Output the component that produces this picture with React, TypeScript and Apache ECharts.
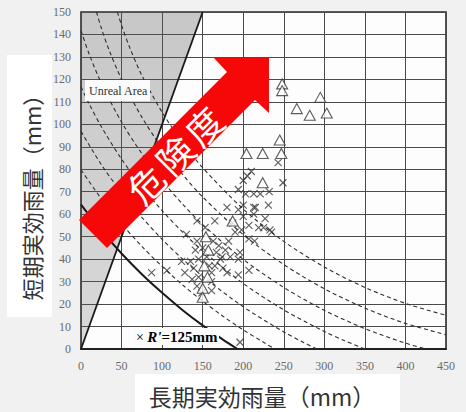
import React, { useEffect, useRef } from 'react';
import * as echarts from 'echarts';

// × cases (long-term, short-term effective rainfall, mm)
const crossPoints: number[][] = [
  [87, 34], [106, 35], [124, 39], [128, 34], [130, 51], [135, 39], [137, 31], [139, 36],
  [141, 44], [143, 57], [143, 48], [143, 28], [145, 40], [145, 32], [149, 25], [153, 54],
  [150, 45], [155, 41], [158, 37], [161, 34], [161, 30], [161, 26], [163, 48], [165, 57],
  [165, 37], [167, 43], [170, 46], [172, 40], [174, 41], [175, 36], [178, 44], [180, 63],
  [180, 34], [182, 48], [184, 41], [187, 56], [190, 52], [194, 71], [194, 62], [194, 40],
  [194, 33], [196, 43], [198, 53], [200, 75], [200, 64], [200, 59], [203, 69], [205, 77],
  [207, 55], [207, 49], [207, 35], [210, 79], [213, 69], [213, 63], [213, 60], [214, 48],
  [215, 63], [219, 54], [221, 69], [225, 54], [227, 58], [231, 64], [232, 70], [233, 53],
  [235, 52], [243, 83], [249, 74], [196, 3]
];

// △ cases
const trianglePoints: number[][] = [
  [248, 118], [248, 115], [295, 112], [266, 107], [282, 104], [303, 105], [245, 93],
  [204, 87], [224, 87], [247, 87], [224, 74], [187, 57], [154, 50], [157, 44],
  [152, 37], [156, 32], [150, 27], [150, 23]
];

// Unreal area (short-term > long-term)
const unrealArea: number[][] = [[0, 0], [150, 150], [0, 150]];
const unrealBoundary: number[][] = [[0, 0], [150, 150]];

// iso-lines
const dashedA: number[][] = [[44.9, 150], [50, 144.1], [60, 134.2], [75, 121.8], [100, 105.4], [125, 92.0], [150, 80.7], [200, 62.3], [250, 47.9], [300, 36.5], [350, 27.4], [400, 20.3], [450, 15.0]];
const dashedB: number[][] = [[19.1, 150], [25, 142.9], [35, 132.7], [50, 120.1], [75, 103.2], [100, 89.4], [125, 77.8], [150, 67.7], [200, 50.9], [250, 37.6], [300, 26.8], [350, 18.2], [400, 11.4], [450, 6.4]];
const dashedC: number[][] = [[0, 141.7], [10, 131.3], [25, 118.4], [50, 101.0], [75, 87.0], [100, 75.0], [125, 64.6], [150, 55.4], [200, 39.9], [250, 27.4], [300, 17.2], [350, 9.1], [400, 2.6], [425, 0]];
const dashedD: number[][] = [[0, 116.7], [10, 109.1], [25, 99.0], [50, 84.5], [75, 72.3], [100, 61.6], [125, 52.1], [150, 43.7], [200, 29.2], [250, 17.4], [300, 7.8], [325, 3.7], [350, 0]];
const dashedE: number[][] = [[0, 96.9], [25, 82.1], [50, 69.6], [75, 58.6], [100, 48.8], [125, 40.1], [150, 32.3], [200, 18.8], [250, 7.6], [275, 2.8], [291, 0]];
const dashedF: number[][] = [[0, 79.8], [25, 66.9], [50, 55.7], [75, 45.7], [100, 36.7], [125, 28.6], [150, 21.3], [175, 14.6], [200, 8.5], [225, 3.0], [239, 0]];
const curveR125: number[][] = [[0, 64.3], [25, 52.8], [50, 42.5], [75, 33.3], [100, 25.0], [125, 17.4], [150, 10.5], [175, 4.2], [193, 0]];

const dashedCurves = [dashedA, dashedB, dashedC, dashedD, dashedE, dashedF];

const xTitle = '長期実効雨量（mm）';
const yTitle = '短期実効雨量（mm）';
const arrowChars = ['危', '険', '度'];

const SERIF = "'Liberation Serif', 'DejaVu Serif', serif";
const CJK = "'Noto Sans CJK JP', 'Noto Sans', sans-serif";

export default function App() {
  const ref = useRef<HTMLDivElement>(null);
  useEffect(() => {
    if (!ref.current) return;
    const chart = echarts.init(ref.current, null, { renderer: 'svg' });

    const lineBase = {
      type: 'line',
      showSymbol: false,
      symbol: 'none',
      smooth: 0.3,
      silent: true,
      z: 3,
    };

    const series: any[] = [
      {
        type: 'custom',
        silent: true,
        z: 2,
        data: [[0, 0]],
        renderItem: (params: any, api: any) => ({
          type: 'polygon',
          shape: { points: unrealArea.map((p) => api.coord(p)) },
          style: {
            fill: new echarts.graphic.LinearGradient(0, 0, 0, 1, [
              { offset: 0, color: 'rgba(90,90,90,0.33)' },
              { offset: 1, color: 'rgba(90,90,90,0.22)' },
            ]),
          },
        }),
      },
      ...dashedCurves.map((d) => ({
        ...lineBase,
        data: d,
        lineStyle: { color: '#2e2e2e', width: 1.1, type: [4, 3] },
      })),
      {
        ...lineBase,
        data: curveR125,
        lineStyle: { color: '#1a1a1a', width: 2 },
      },
      {
        ...lineBase,
        smooth: false,
        data: unrealBoundary,
        lineStyle: { color: '#1a1a1a', width: 1.8 },
      },
      {
        type: 'scatter',
        data: crossPoints,
        symbol: 'path://M0 0L10 10M10 0L0 10',
        symbolSize: 7,
        itemStyle: { color: 'rgba(0,0,0,0)', borderColor: '#333', borderWidth: 1.1 },
        z: 5,
        silent: true,
      },
      {
        type: 'scatter',
        data: trianglePoints,
        symbol: 'triangle',
        symbolSize: [11, 10],
        itemStyle: { color: '#ffffff', borderColor: '#333', borderWidth: 1.1 },
        z: 6,
        silent: true,
      },
    ];

    const arrowPts = [
      [269, 58], [269, 113], [255, 100], [107, 248], [79, 220], [227, 72], [214, 58],
    ];
    const charPos = [[145, 183], [174, 154], [203, 125]];

    const graphic: any[] = [
      { type: 'rect', z: 0, silent: true, shape: { x: 7, y: 55, width: 45, height: 262 }, style: { fill: '#ffffff' } },
      { type: 'rect', z: 0, silent: true, shape: { x: 135, y: 374, width: 265, height: 38 }, style: { fill: '#ffffff' } },
      {
        type: 'text', z: 10, x: 31, y: 192, rotation: Math.PI / 2,
        style: { text: yTitle, font: `22px ${CJK}`, fill: '#333', textAlign: 'center', textVerticalAlign: 'middle' },
      },
      {
        type: 'text', z: 10, x: 262, y: 396,
        style: { text: xTitle, font: `23px ${CJK}`, fill: '#333', textAlign: 'center', textVerticalAlign: 'middle' },
      },
      { type: 'rect', z: 50, silent: true, shape: { x: 85, y: 80, width: 65, height: 21 }, style: { fill: '#fbfbfb' } },
      {
        type: 'text', z: 51, x: 89, y: 91,
        style: { text: 'Unreal Area', font: `12px ${SERIF}`, fill: '#333', textAlign: 'left', textVerticalAlign: 'middle' },
      },
      { type: 'rect', z: 50, silent: true, shape: { x: 133, y: 328, width: 86, height: 17 }, style: { fill: '#fbfbfb' } },
      {
        type: 'text', z: 51, x: 136, y: 337,
        style: {
          text: "{a|×} {b|R'}{c|=125mm}",
          textAlign: 'left', textVerticalAlign: 'middle',
          rich: {
            a: { fontFamily: SERIF, fontSize: 14, color: '#222' },
            b: { fontFamily: SERIF, fontSize: 15, fontWeight: 'bold', fontStyle: 'italic', color: '#222' },
            c: { fontFamily: SERIF, fontSize: 15, fontWeight: 'bold', color: '#222' },
          },
        },
      },
      {
        type: 'polygon', z: 100, silent: true,
        shape: { points: arrowPts },
        style: { fill: '#f60808' },
      },
      ...arrowChars.map((ch, i) => ({
        type: 'text', z: 101, x: charPos[i][0], y: charPos[i][1], rotation: Math.PI / 4,
        style: { text: ch, font: `36px ${CJK}`, fill: '#ffffff', textAlign: 'center', textVerticalAlign: 'middle' },
      })),
    ];

    chart.setOption({
      animation: false,
      backgroundColor: '#f1f1f1',
      grid: {
        left: 81, top: 12, width: 365, height: 337,
        show: true, backgroundColor: '#fdfdfd', borderColor: '#2a2a2a', borderWidth: 1.6,
      },
      xAxis: {
        type: 'value', min: 0, max: 450, interval: 50,
        axisLine: { show: true, lineStyle: { color: '#222', width: 2 } },
        axisTick: { show: false },
        axisLabel: { color: '#6a6a6a', fontFamily: SERIF, fontSize: 12, margin: 11 },
        splitLine: { show: true, lineStyle: { color: '#4a4a4a', width: 1 } },
      },
      yAxis: {
        type: 'value', min: 0, max: 150, interval: 10,
        axisLine: { show: true, lineStyle: { color: '#444', width: 1 } },
        axisTick: { show: false },
        axisLabel: { color: '#6a6a6a', fontFamily: SERIF, fontSize: 12, margin: 10 },
        splitLine: { show: true, lineStyle: { color: '#4a4a4a', width: 1 } },
      },
      series,
      graphic,
    });
    return () => chart.dispose();
  }, []);
  return (
    <div
      ref={ref}
      style={{ position: 'fixed', left: 0, top: 0, width: 466, height: 412 }}
    />
  );
}
